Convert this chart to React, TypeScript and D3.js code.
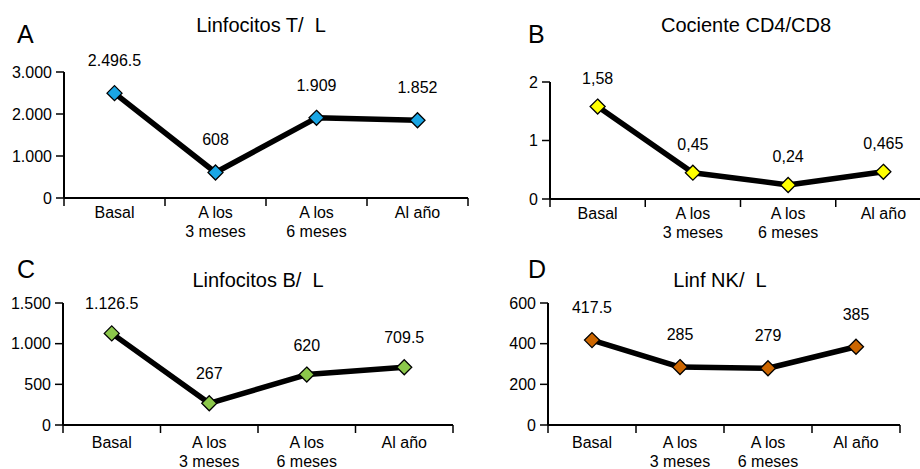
import React from "react";
import * as d3 from "d3";

const categories = ["Basal", "A los|3 meses", "A los|6 meses", "Al año"];

const tValues = [2496.5, 608, 1909, 1852];
const tLabels = ["2.496.5", "608", "1.909", "1.852"];
const tTicks = [0, 1000, 2000, 3000];
const tTickLabels = ["0", "1.000", "2.000", "3.000"];

const ratioValues = [1.58, 0.45, 0.24, 0.465];
const ratioLabels = ["1,58", "0,45", "0,24", "0,465"];
const ratioTicks = [0, 1, 2];
const ratioTickLabels = ["0", "1", "2"];

const bValues = [1126.5, 267, 620, 709.5];
const bLabels = ["1.126.5", "267", "620", "709.5"];
const bTicks = [0, 500, 1000, 1500];
const bTickLabels = ["0", "500", "1.000", "1.500"];

const nkValues = [417.5, 285, 279, 385];
const nkLabels = ["417.5", "285", "279", "385"];
const nkTicks = [0, 200, 400, 600];
const nkTickLabels = ["0", "200", "400", "600"];

const FONT = "'Liberation Sans', Arial, Helvetica, sans-serif";

type PanelProps = {
  letter: string;
  title: string;
  values: number[];
  labels: string[];
  ticks: number[];
  tickLabels: string[];
  color: string;
  x0: number;
  x1: number;
  yZero: number;
  yTop: number;
  letterX: number;
  letterY: number;
  titleX: number;
  titleY: number;
  labelOffset: number;
  catOffset: number;
};

function Panel(p: PanelProps) {
  const max = p.ticks[p.ticks.length - 1];
  const x = d3.scaleBand<string>().domain(categories).range([p.x0, p.x1]);
  const y = d3.scaleLinear().domain([0, max]).range([p.yZero, p.yTop]);
  const cx = (c: string) => (x(c) as number) + x.bandwidth() / 2;
  const line = d3
    .line<number>()
    .x((_, i) => cx(categories[i]))
    .y((v) => y(v));
  const boundaries = categories.map((c) => x(c) as number).concat([p.x1]);
  const r = 7.5;
  return (
    <g fontFamily={FONT}>
      <text x={p.letterX} y={p.letterY} fontSize={25} fill="#000">
        {p.letter}
      </text>
      <text
        x={p.titleX}
        y={p.titleY}
        fontSize={20}
        textAnchor="middle"
        fill="#000"
        style={{ whiteSpace: "pre" }}
      >
        {p.title}
      </text>
      {/* y axis */}
      <line x1={p.x0} x2={p.x0} y1={y(max)} y2={p.yZero} stroke="#000" strokeWidth={2} />
      {p.ticks.map((t, i) => (
        <g key={"yt" + i}>
          <line x1={p.x0 - 8} x2={p.x0} y1={y(t)} y2={y(t)} stroke="#000" strokeWidth={1.5} />
          <text
            x={p.x0 - 12}
            y={y(t)}
            dy="0.36em"
            fontSize={16}
            textAnchor="end"
            fill="#000"
          >
            {p.tickLabels[i]}
          </text>
        </g>
      ))}
      {/* x axis */}
      <line x1={p.x0} x2={p.x1} y1={p.yZero} y2={p.yZero} stroke="#000" strokeWidth={2} />
      {boundaries.map((bx, i) => (
        <line key={"xt" + i} x1={bx} x2={bx} y1={p.yZero} y2={p.yZero + 8} stroke="#000" strokeWidth={1.5} />
      ))}
      {categories.map((c, i) => {
        const parts = c.split("|");
        return (
          <text key={"xl" + i} x={cx(c)} y={p.yZero + p.catOffset} fontSize={16} textAnchor="middle" fill="#000">
            {parts.map((s, j) => (
              <tspan key={j} x={cx(c)} dy={j === 0 ? 0 : 19}>
                {s}
              </tspan>
            ))}
          </text>
        );
      })}
      {/* line */}
      <path d={line(p.values) || ""} fill="none" stroke="#000" strokeWidth={5.5} strokeLinejoin="round" />
      {p.values.map((v, i) => {
        const px = cx(categories[i]);
        const py = y(v);
        return (
          <path
            key={"m" + i}
            d={`M${px},${py - r}L${px + r},${py}L${px},${py + r}L${px - r},${py}Z`}
            fill={p.color}
            stroke="#000"
            strokeWidth={1.3}
          />
        );
      })}
      {p.values.map((v, i) => (
        <text
          key={"dl" + i}
          x={cx(categories[i])}
          y={y(v) - p.labelOffset}
          fontSize={16}
          textAnchor="middle"
          fill="#000"
        >
          {p.labels[i]}
        </text>
      ))}
    </g>
  );
}

export default function App() {
  return (
    <svg width={920} height={469} style={{ position: "absolute", left: 0, top: 0, background: "#fff" }}>
      <rect width={920} height={469} fill="#fff" />
      <Panel
        letter="A"
        title={"Linfocitos T/  L"}
        values={tValues}
        labels={tLabels}
        ticks={tTicks}
        tickLabels={tTickLabels}
        color="#1aa6e4"
        x0={64}
        x1={468}
        yZero={198}
        yTop={72}
        letterX={17}
        letterY={43}
        titleX={261}
        titleY={32}
        labelOffset={27}
        catOffset={20}
      />
      <Panel
        letter="B"
        title="Cociente CD4/CD8"
        values={ratioValues}
        labels={ratioLabels}
        ticks={ratioTicks}
        tickLabels={ratioTickLabels}
        color="#ffff00"
        x0={550}
        x1={931}
        yZero={199}
        yTop={82}
        letterX={528}
        letterY={43}
        titleX={746}
        titleY={32}
        labelOffset={23}
        catOffset={20}
      />
      <Panel
        letter="C"
        title={"Linfocitos B/  L"}
        values={bValues}
        labels={bLabels}
        ticks={bTicks}
        tickLabels={bTickLabels}
        color="#8cc84b"
        x0={63}
        x1={453}
        yZero={425}
        yTop={303}
        letterX={17}
        letterY={278}
        titleX={258}
        titleY={287}
        labelOffset={24}
        catOffset={23}
      />
      <Panel
        letter="D"
        title={"Linf NK/  L"}
        values={nkValues}
        labels={nkLabels}
        ticks={nkTicks}
        tickLabels={nkTickLabels}
        color="#cc6600"
        x0={548}
        x1={900}
        yZero={425}
        yTop={303}
        letterX={528}
        letterY={278}
        titleX={720}
        titleY={287}
        labelOffset={27}
        catOffset={23}
      />
    </svg>
  );
}
